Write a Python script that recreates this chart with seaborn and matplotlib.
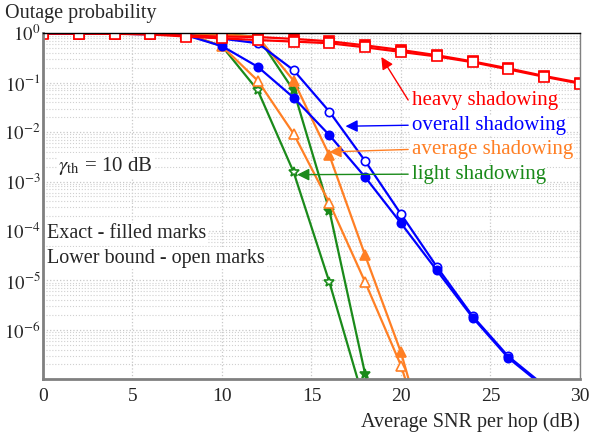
import matplotlib
matplotlib.use("Agg")
import matplotlib.pyplot as plt
import numpy as np
import pandas as pd
import seaborn as sns

sns.set_style("white")
plt.rcParams["font.family"] = ["Liberation Serif", "DejaVu Serif"]
plt.rcParams["mathtext.fontset"] = "stix"

# -------------------------------------------------------------
# DATA
# -------------------------------------------------------------
snr_db = [0, 2, 4, 6, 8, 10, 12, 14, 16, 18, 20, 22, 24, 26, 28, 30]

heavy_exact = [0.995, 0.99, 0.98, 0.96, 0.9, 0.86, 0.84, 0.77, 0.69, 0.57,
               0.46, 0.36, 0.27, 0.195, 0.137, 0.1]
heavy_bound = [0.99, 0.985, 0.975, 0.95, 0.86, 0.79, 0.73, 0.68, 0.63, 0.52,
               0.42, 0.34, 0.26, 0.186, 0.132, 0.096]

overall_exact = [0.995, 0.99, 0.98, 0.96, 0.91, 0.55, 0.21, 0.05, 0.0087, 0.00123,
                 1.44e-4, 1.6e-5, 1.78e-6, 2.7e-7, 7e-8, 1.5e-8]
overall_bound = [0.995, 0.99, 0.98, 0.96, 0.92, 0.78, 0.63, 0.18, 0.026, 0.0026,
                 2.2e-4, 1.9e-5, 1.9e-6, 2.9e-7, 7.5e-8, 1.6e-8]

average_exact = [0.999, 0.999, 0.999, 0.998, 0.99, 0.95, 0.85, 0.11, 0.0034, 3.2e-5,
                 3.5e-7, 1e-9, 1e-10, 1e-11, 1e-12, 1e-13]
average_bound = [0.999, 0.999, 0.999, 0.998, 0.97, 0.55, 0.11, 0.0093, 3.7e-4, 9.2e-6,
                 1.9e-7, 1e-9, 1e-10, 1e-11, 1e-12, 1e-13]

light_exact = [0.999, 0.999, 0.999, 0.998, 0.99, 0.96, 0.85, 0.07, 2.6e-4, 1.26e-7,
               1e-10, 1e-11, 1e-12, 1e-13, 1e-14, 1e-15]
light_bound = [0.999, 0.999, 0.999, 0.998, 0.97, 0.55, 0.07, 0.00156, 9.2e-6, 3e-8,
               1e-10, 1e-11, 1e-12, 1e-13, 1e-14, 1e-15]

RED = "#ff0000"
BLUE = "#0000ff"
ORANGE = "#ff7f24"
GREEN = "#1a8a1a"

series = [
    # (values, colour, marker, size, filled)
    (light_bound, GREEN, "*", 7, False),
    (light_exact, GREEN, "*", 7, True),
    (average_bound, ORANGE, "^", 7, False),
    (average_exact, ORANGE, "^", 7, True),
    (overall_bound, BLUE, "o", 6, False),
    (overall_exact, BLUE, "o", 6, True),
    (heavy_exact, RED, "s", 6.5, True),
    (heavy_bound, RED, "s", 6.5, False),
]

# -------------------------------------------------------------
# PLOT
# -------------------------------------------------------------
fig = plt.figure(figsize=(5.89, 4.37), dpi=100)
ax = fig.add_axes([0.073, 0.132, 0.9117, 0.7918])
ax.set_yscale("log")

for vals, col, mk, ms, filled in series:
    df = pd.DataFrame({"snr": snr_db, "p": vals})
    sns.lineplot(
        data=df, x="snr", y="p", ax=ax, color=col, linewidth=1.6,
        marker=mk, markersize=ms, markeredgecolor=col, markeredgewidth=1.2,
        markerfacecolor=col if filled else "white", sort=False,
    )

ax.set_xlim(0, 30)
ax.set_ylim(1e-7, 1)
ax.set_xticks([0, 5, 10, 15, 20, 25, 30])
ax.set_yticks([1e-6, 1e-5, 1e-4, 1e-3, 1e-2, 1e-1, 1])
ax.set_yticklabels([r"$10^{%d}$" % e for e in range(-6, 1)])
ax.yaxis.set_minor_locator(matplotlib.ticker.LogLocator(base=10, subs=np.arange(2, 10), numticks=20))
ax.yaxis.set_minor_formatter(matplotlib.ticker.NullFormatter())
ax.tick_params(axis="x", which="both", length=0, labelsize=14, pad=6)
ax.tick_params(axis="y", which="both", length=0, labelsize=13.5, pad=2)
ax.set_xlabel("")
ax.set_ylabel("")

ax.grid(True, which="major", color="#c8c8c8", linestyle=":", linewidth=0.9)
ax.grid(True, which="minor", axis="y", color="#d0d0d0", linestyle=":", linewidth=0.8)
ax.set_axisbelow(True)

for side in ["left", "bottom"]:
    ax.spines[side].set_color("#808080")
    ax.spines[side].set_linewidth(2)
ax.spines["top"].set_color("black")
ax.spines["top"].set_linewidth(1)
ax.spines["right"].set_color("#808080")
ax.spines["right"].set_linewidth(1)

fig.text(0.008, 0.968, "Outage probability", fontsize=14.5, ha="left", va="center")
fig.text(0.985, 0.034, "Average SNR per hop (dB)", fontsize=14.5, ha="right", va="center")

box = dict(facecolor="white", edgecolor="none", pad=1)
ax.text(0.028, 0.617, r"$\gamma_{\rm th}$ = 10 dB", transform=ax.transAxes,
        fontsize=15, va="center", ha="left", bbox=box)
ax.text(0.008, 0.42, "Exact - filled marks", transform=ax.transAxes,
        fontsize=14.5, va="center", ha="left", bbox=box)
ax.text(0.008, 0.35, "Lower bound - open marks", transform=ax.transAxes,
        fontsize=14.5, va="center", ha="left", bbox=box)

# labels with arrows pointing to the curves
labels = [
    ("heavy shadowing", RED, (20.6, 10 ** -1.35), (18.9, 10 ** -0.48)),
    ("overall shadowing", BLUE, (20.6, 10 ** -1.86), (16.9, 10 ** -1.88)),
    ("average shadowing", ORANGE, (20.6, 10 ** -2.35), (16.0, 10 ** -2.4)),
    ("light shadowing", GREEN, (20.6, 10 ** -2.85), (14.2, 10 ** -2.86)),
]
for txt, col, tpos, apos in labels:
    ax.annotate(
        "", xy=apos, xytext=(tpos[0] - 0.2, tpos[1]),
        arrowprops=dict(arrowstyle="-|>", color=col, lw=1, mutation_scale=18,
                        shrinkA=0, shrinkB=0),
    )
    ax.text(tpos[0], tpos[1], txt, color=col, fontsize=15, va="center", ha="left",
            bbox=dict(facecolor="white", edgecolor="none", pad=0.5))

fig.savefig("out.png", dpi=100)
